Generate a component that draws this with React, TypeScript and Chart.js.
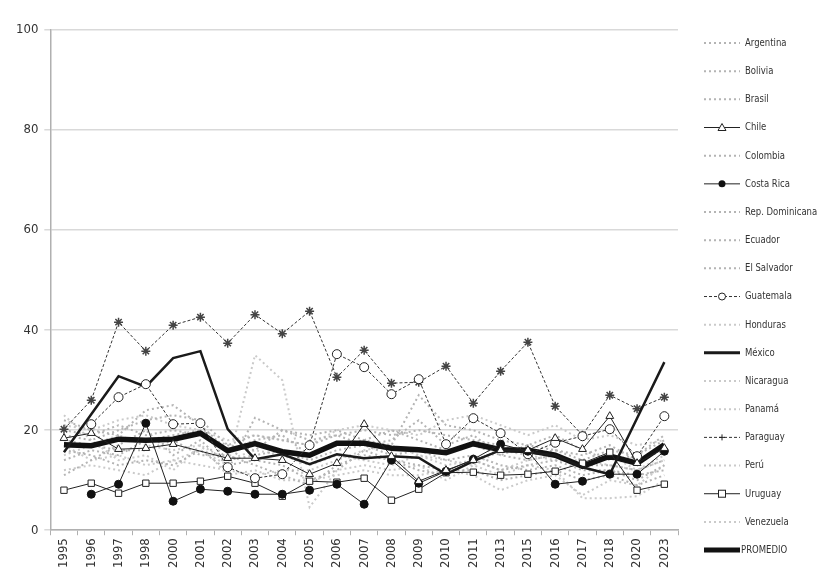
import React, { useEffect, useRef } from "react";
import { Chart, registerables } from "chart.js";

Chart.register(...registerables);

const categories = ["1995","1996","1997","1998","2000","2001","2002","2003","2004","2005","2006","2007","2008","2009","2010","2011","2013","2015","2016","2017","2018","2020","2023"];

const argentina = [19, 18, 20, 22, 23, 22, 17, 19, 18, 17, 19, 20, 19, 20, 19, 18, 17, 15, 16, 14, 16, 15, 18];
const bolivia = [14, 16, 15, 18, 19, 20, 14, 15, 16, 14, 16, 17, 18, 22, 17, 19, 15, 14, 15, 13, 13, 12, 14];
const brasil = [22, 20, 19, 24, 25, 21, 16, 18, 19, 15, 17, 18, 20, 18, 16, 17, 15, 17, 19, 16, 14, 15, 19];
const chile = [18.4, 19.4, 16.2, 16.4, 17.2, null, 14.4, 14.4, 14, 11.2, 13.4, 21.2, 14.8, 9.8, 12, 14, 16, 16, 18.4, 16.2, 22.8, 13.4, 16.4];
const colombia = [11, 14, 17, 20, 15, 18, 13, 14, 13, 10, 12, 16, 14, 12, 11, 14, 12, 13, 14, 12, 12, 10, 13];
const costaRica = [null, 7.2, 9.2, 21.4, 5.8, 8.2, 7.8, 7.2, 7.2, 8, 9.2, 5.2, 14, 9.4, 11.8, 14.2, 17.2, 15.8, 9.2, 9.8, 11.2, 11.2, 15.8];
const repDominicana = [16, 15, 13, 14, 13, 16, 12, 22.5, 20, 18, 19, 17, 15, 16, 14, 15, 13, 12, 13, 11, 12, 11, 12];
const ecuador = [18, 17, 16, 16, 18, 15, 15, 13, 11, 9, 13, 15, 14, 13, 12, 12, 10, 11, 12, 10, 11, 9, 11];
const elSalvador = [20, 19, 21, 19, 20, 19, 17, 16, 20, 19, 20, 18, 17, 27, 21, 20, 18, 17, 16, 15, 17, 14, 16];
const guatemala = [null, 21.2, 26.6, 29.2, 21.2, 21.4, 12.6, 10.4, 11.2, 17, 35.2, 32.6, 27.2, 30.2, 17.2, 22.4, 19.4, 15.2, 17.5, 18.8, 20.2, 14.8, 22.8];
const honduras = [15, 17, 19, 17, 16, 17, 14, 16, 15, 13, 15, 14, 13, 15, 14, 13, 16, 15, 14, 14, 13, 12, 15];
const mexico = [15.6, 23.2, 30.8, 28.7, 34.4, 35.8, 20.2, 14.2, 15.2, 13.2, 15.2, 14.4, 14.8, 14.5, 11.2, 13.8, 16, 15.6, 15, 12.6, 11.2, 22.4, 33.6];
const nicaragua = [17, 14, 15, 13, 14, 16, 13, 35, 30, 4.6, 12, 13, 12, 13, 10, 13, 11, 13, 12, 6.4, 6.4, 6.8, 10];
const panama = [23, 18, 14, 15, 12, 17, 11, 12, 10, 10, 11, 12, 11, 11, 12, 11, 8, 10, 11, 7, 10, 9, 13];
const paraguay = [20.2, 26, 41.6, 35.8, 41, 42.6, 37.4, 43.1, 39.3, 43.8, 30.6, 36, 29.4, 29.6, 32.8, 25.4, 31.8, 37.6, 24.8, 19, 27, 24.3, 26.6];
const peru = [21, 20, 22, 23, 21, 20, 18, 19, 18, 17, 20, 21, 20, 19, 22, 23, 21, 19, 21, 18, 19, 17, 18];
const uruguay = [8, 9.4, 7.4, 9.4, 9.4, 9.8, 10.8, 9.4, 6.8, 9.8, 9.6, 10.4, 6, 8.2, 11.5, 11.6, 11, 11.2, 11.8, 13.4, 15.6, 8, 9.2];
const venezuela = [12, 13, 12, 11, 14, 13, 12, 11, 12, 12, 14, 16, 17, 15, 13, 14, 12, 14, 15, 13, 15, 12, 14];
const promedio = [17.1, 16.9, 18.2, 18, 18.2, 19.4, 15.9, 17.3, 15.7, 15, 17.4, 17.4, 16.4, 16.1, 15.5, 17.3, 16.1, 16, 15, 12.8, 14.8, 13.4, 17.1];

const yTicks = [0, 20, 40, 60, 80, 100];

const FONT = '"Liberation Sans Narrow", "DejaVu Sans Condensed", "Open Sans", sans-serif';

type Kind = "grayDark" | "grayLight" | "chile" | "costa" | "guate" | "mexico" | "para" | "uru" | "prom";

const seriesDefs: { label: string; data: (number | null)[]; kind: Kind }[] = [
  { label: "Argentina", data: argentina, kind: "grayDark" },
  { label: "Bolivia", data: bolivia, kind: "grayDark" },
  { label: "Brasil", data: brasil, kind: "grayDark" },
  { label: "Chile", data: chile, kind: "chile" },
  { label: "Colombia", data: colombia, kind: "grayDark" },
  { label: "Costa Rica", data: costaRica, kind: "costa" },
  { label: "Rep. Dominicana", data: repDominicana, kind: "grayDark" },
  { label: "Ecuador", data: ecuador, kind: "grayDark" },
  { label: "El Salvador", data: elSalvador, kind: "grayDark" },
  { label: "Guatemala", data: guatemala, kind: "guate" },
  { label: "Honduras", data: honduras, kind: "grayLight" },
  { label: "México", data: mexico, kind: "mexico" },
  { label: "Nicaragua", data: nicaragua, kind: "grayLight" },
  { label: "Panamá", data: panama, kind: "grayLight" },
  { label: "Paraguay", data: paraguay, kind: "para" },
  { label: "Perú", data: peru, kind: "grayLight" },
  { label: "Uruguay", data: uruguay, kind: "uru" },
  { label: "Venezuela", data: venezuela, kind: "grayLight" },
  { label: "PROMEDIO", data: promedio, kind: "prom" },
];

function styleFor(kind: Kind) {
  switch (kind) {
    case "grayDark":
      return { borderColor: "#b4b4b4", borderWidth: 2, borderDash: [2, 3], pointRadius: 0, order: 3 };
    case "grayLight":
      return { borderColor: "#cacaca", borderWidth: 2, borderDash: [2, 3], pointRadius: 0, order: 3 };
    case "chile":
      return { borderColor: "#222", borderWidth: 1, pointStyle: "triangle", pointRadius: 4.5, pointBackgroundColor: "#fff", pointBorderColor: "#222", pointBorderWidth: 1, order: 1, spanGaps: true };
    case "costa":
      return { borderColor: "#222", borderWidth: 1, pointStyle: "circle", pointRadius: 4, pointBackgroundColor: "#111", pointBorderColor: "#111", pointBorderWidth: 1, order: 1 };
    case "guate":
      return { borderColor: "#333", borderWidth: 1, borderDash: [3, 2], pointStyle: "circle", pointRadius: 4.5, pointBackgroundColor: "#fff", pointBorderColor: "#222", pointBorderWidth: 1, order: 1 };
    case "mexico":
      return { borderColor: "#1a1a1a", borderWidth: 2.5, pointRadius: 0, order: 1 };
    case "para":
      return { borderColor: "#333", borderWidth: 1, borderDash: [3, 2], pointStyle: "star", pointRadius: 4.5, pointBackgroundColor: "#555", pointBorderColor: "#444", pointBorderWidth: 1.5, order: 1 };
    case "uru":
      return { borderColor: "#222", borderWidth: 1, pointStyle: "rect", pointRadius: 4.5, pointBackgroundColor: "#fff", pointBorderColor: "#222", pointBorderWidth: 1, order: 1 };
    case "prom":
      return { borderColor: "#111", borderWidth: 5.5, pointRadius: 0, order: 2 };
  }
}

function drawMarker(ctx: CanvasRenderingContext2D, kind: Kind, x: number, y: number) {
  ctx.save();
  ctx.setLineDash([]);
  ctx.lineWidth = 1;
  ctx.strokeStyle = "#222";
  if (kind === "chile") {
    ctx.fillStyle = "#fff";
    ctx.beginPath();
    ctx.moveTo(x, y - 4);
    ctx.lineTo(x + 4, y + 3);
    ctx.lineTo(x - 4, y + 3);
    ctx.closePath();
    ctx.fill();
    ctx.stroke();
  } else if (kind === "costa") {
    ctx.fillStyle = "#111";
    ctx.beginPath();
    ctx.arc(x, y, 3.5, 0, Math.PI * 2);
    ctx.fill();
  } else if (kind === "guate") {
    ctx.fillStyle = "#fff";
    ctx.beginPath();
    ctx.arc(x, y, 3.5, 0, Math.PI * 2);
    ctx.fill();
    ctx.stroke();
  } else if (kind === "uru") {
    ctx.fillStyle = "#fff";
    ctx.fillRect(x - 3.5, y - 3.5, 7, 7);
    ctx.strokeRect(x - 3.5, y - 3.5, 7, 7);
  } else if (kind === "para") {
    ctx.beginPath();
    ctx.moveTo(x - 3, y);
    ctx.lineTo(x + 3, y);
    ctx.moveTo(x, y - 3);
    ctx.lineTo(x, y + 3);
    ctx.stroke();
  }
  ctx.restore();
}

const legendPlugin = {
  id: "customLegend",
  afterDraw(chart: any) {
    const ctx: CanvasRenderingContext2D = chart.ctx;
    const area = chart.chartArea;
    const x0 = area.right + 26;
    const y0 = area.top + 13;
    const step = 28.17;
    ctx.save();
    seriesDefs.forEach((s, i) => {
      const y = y0 + i * step;
      const st: any = styleFor(s.kind);
      ctx.save();
      ctx.strokeStyle = st.borderColor;
      let lw = st.borderWidth;
      if (s.kind === "mexico") lw = 3;
      if (s.kind === "prom") lw = 5;
      ctx.lineWidth = lw;
      ctx.setLineDash(st.borderDash || []);
      ctx.beginPath();
      ctx.moveTo(x0, y);
      ctx.lineTo(x0 + 36, y);
      ctx.stroke();
      ctx.restore();
      drawMarker(ctx, s.kind, x0 + 18, y);
      const tx = s.kind === "prom" ? x0 + 37 : x0 + 41;
      ctx.save();
      ctx.translate(tx, y);
      ctx.scale(0.86, 1);
      ctx.fillStyle = "#333";
      ctx.font = `11px ${FONT}`;
      ctx.textBaseline = "middle";
      ctx.textAlign = "left";
      ctx.fillText(s.label, 0, 0);
      ctx.restore();
    });
    ctx.restore();
  },
};

export default function App() {
  const canvasRef = useRef<HTMLCanvasElement | null>(null);

  useEffect(() => {
    if (!canvasRef.current) return;
    const datasets = seriesDefs.map((s) => ({
      label: s.label,
      data: s.data,
      fill: false,
      tension: 0,
      ...(styleFor(s.kind) as any),
    }));
    const chart = new Chart(canvasRef.current, {
      type: "line",
      data: { labels: categories, datasets },
      plugins: [legendPlugin],
      options: {
        animation: false,
        responsive: true,
        maintainAspectRatio: false,
        layout: { padding: { left: 2, right: 148, top: 22, bottom: 6 } },
        plugins: {
          legend: { display: false },
          tooltip: { enabled: false },
        },
        scales: {
          x: {
            offset: true,
            grid: { display: true, drawOnChartArea: false, drawTicks: true, tickLength: 5, color: "#b0b0b0", offset: true },
            border: { display: true, color: "#b0b0b0", width: 1.5 },
            ticks: {
              autoSkip: false,
              maxRotation: 90,
              minRotation: 90,
              color: "#333",
              padding: 3,
              font: { family: FONT, size: 13 },
            },
          },
          y: {
            min: 0,
            max: 100,
            afterBuildTicks: (scale: any) => {
              scale.ticks = yTicks.map((v) => ({ value: v }));
            },
            grid: { color: "#d9d9d9", lineWidth: 1.5, tickLength: 6, drawTicks: true },
            border: { display: true, color: "#b0b0b0", width: 1.5 },
            ticks: {
              color: "#333",
              padding: 6,
              font: { family: FONT, size: 13 },
            },
          },
        },
      },
    });
    return () => chart.destroy();
  }, []);

  return (
    <div style={{ width: 818, height: 569, position: "relative" }}>
      <canvas ref={canvasRef} />
    </div>
  );
}
